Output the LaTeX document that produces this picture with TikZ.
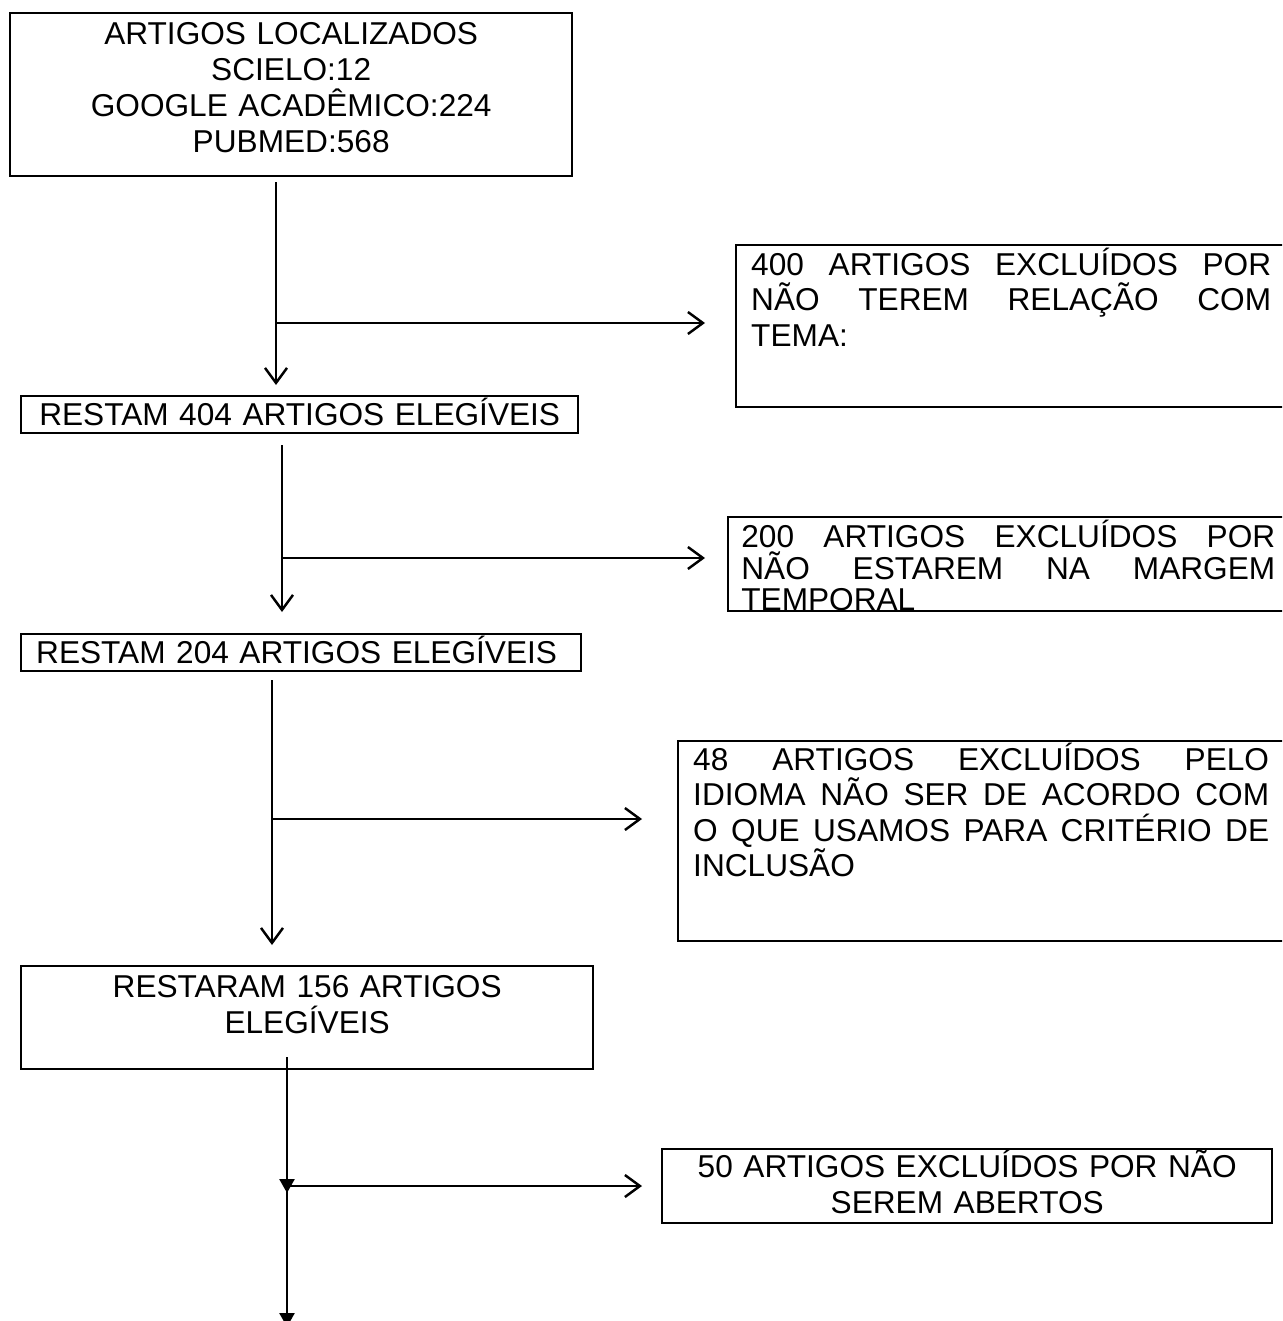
\documentclass[tikz,border=0pt]{standalone}
\usepackage{fontspec}
\setmainfont{Liberation Sans}
\usetikzlibrary{arrows.meta}
\newcommand{\boxfont}{\fontsize{18}{20.2}\selectfont}
\hbadness=10000
\tikzset{
  box/.style={draw, line width=1.4pt, font=\boxfont, inner ysep=0pt, anchor=north west},
  arr/.style={line width=1.4pt, -{Straight Barb[length=0.3cm,width=0.44cm]}},
  farr/.style={line width=1.4pt, -{Triangle[length=0.28cm,width=0.3cm]}}
}
\begin{document}
\begin{tikzpicture}[x=0.02cm, y=-0.02cm]
\clip (0,0) rectangle (1282,1321);

% Main column
\node[box, inner xsep=0pt, text width=11.24cm, align=center,
      text height=0.62cm, text depth=2.64cm, font=\fontsize{18}{20.5}\selectfont] (loc) at (9,12)
  {ARTIGOS LOCALIZADOS\\ SCIELO:12\\ GOOGLE ACADÊMICO:224\\ PUBMED:568};
\node[box, inner xsep=0.3cm, text width=10.54cm, align=center,
      text height=0.58cm, text depth=0.16cm] (r404) at (20,395)
  {RESTAM 404 ARTIGOS ELEGÍVEIS};
\node[box, inner xsep=0.3cm, text width=10.6cm, align=left,
      text height=0.58cm, text depth=0.16cm] (r204) at (20,633)
  {RESTAM 204 ARTIGOS ELEGÍVEIS};
\node[box, inner xsep=0pt, text width=11.44cm, align=center,
      text height=0.62cm, text depth=1.44cm, font=\fontsize{18}{20.5}\selectfont] (r156) at (20,965)
  {RESTARAM 156 ARTIGOS\\ ELEGÍVEIS};

% Excluded
\node[box, inner xsep=0.3cm, text width=10.4cm, align=justify,
      text height=0.6cm, text depth=2.64cm] (ex400) at (735,244)
  {400 ARTIGOS EXCLUÍDOS POR\linebreak NÃO TEREM RELAÇÃO COM\linebreak TEMA:};
\node[box, minimum width=11.26cm, minimum height=1.88cm] (ex200) at (727,516) {};
\begin{scope}
  \clip (ex200.north west) rectangle (ex200.south east);
  \node[anchor=north west, inner sep=0pt, text width=10.68cm, align=justify,
        text height=0.62cm, font=\fontsize{18}{18.1}\selectfont] (ex200txt) at ([xshift=0.28cm]ex200.north west)
    {200 ARTIGOS EXCLUÍDOS POR\linebreak NÃO ESTAREM NA MARGEM\linebreak TEMPORAL};
\end{scope}
\node[box, inner xsep=0.3cm, text width=11.52cm, align=justify,
      text height=0.58cm, text depth=3.42cm] (ex48) at (677,740)
  {48 ARTIGOS EXCLUÍDOS PELO\linebreak IDIOMA NÃO SER DE ACORDO COM\linebreak O QUE USAMOS PARA CRITÉRIO DE\linebreak INCLUSÃO};
\node[box, inner xsep=0pt, text width=12.2cm, align=center,
      text height=0.56cm, text depth=0.92cm, font=\fontsize{18}{20.5}\selectfont] (ex50) at (661,1148)
  {50 ARTIGOS EXCLUÍDOS POR NÃO\\ SEREM ABERTOS};

% Branch points
\coordinate (j1) at (276,323);
\coordinate (j2) at (282,558);
\coordinate (j3) at (272,819);
\coordinate (j4) at (287,1186);
\coordinate (fim) at (287,1327);

% Arrows
\draw[arr, shorten <=0.1cm, shorten >=0.2cm] (loc.south -| j1) -- (r404.north -| j1);
\draw[arr, shorten >=0.6cm] (j1) -- (j1 -| ex400.west);
\draw[arr, shorten <=0.22cm, shorten >=0.42cm] (r404.south -| j2) -- (r204.north -| j2);
\draw[arr, shorten >=0.44cm] (j2) -- (j2 -| ex200.west);
\draw[arr, shorten <=0.16cm, shorten >=0.4cm] (r204.south -| j3) -- (r156.north -| j3);
\draw[arr, shorten >=0.7cm] (j3) -- (j3 -| ex48.west);
\draw[farr, shorten <=-0.26cm, shorten >=-0.14cm] (r156.south -| j4) -- (j4);
\draw[farr] (j4) -- (fim);
\draw[arr, shorten >=0.38cm] (j4) -- (j4 -| ex50.west);
\end{tikzpicture}
\end{document}
